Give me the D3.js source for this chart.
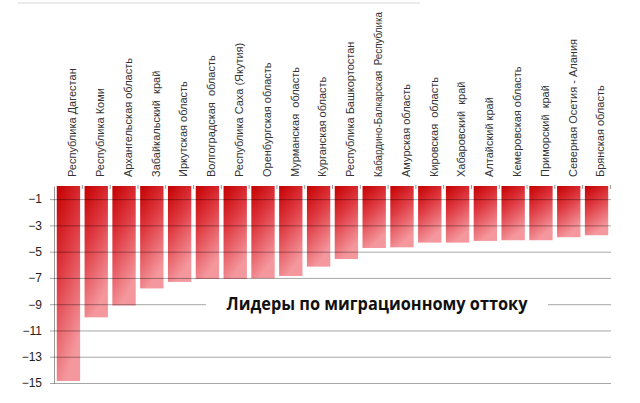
<!DOCTYPE html>
<html>
<head>
<meta charset="utf-8">
<script src="https://cdn.jsdelivr.net/npm/d3@7"></script>
<style>
  body { margin: 0; background: #fff; }
  svg { display: block; }
</style>
</head>
<body>
<svg id="chart" width="640" height="403"></svg>
<script>
// regions (categories) and their migration balance
const regions = [
  "Республика Дагестан", "Республика Коми", "Архангельская область", "Забайкальский  край",
  "Иркутская область", "Волгоградская  область", "Республика Саха (Якутия)", "Оренбургская область",
  "Мурманская  область", "Курганская область", "Республика Башкортостан", "Кабардино-Балкарская  Республика",
  "Амурская область", "Кировская  область", "Хабаровский  край", "Алтайский край",
  "Кемеровская область", "Приморский  край", "Северная Осетия - Алания", "Брянская область"
];
const outflow = [
  -14.85, -10.0, -9.1, -7.8,
  -7.3, -7.08, -7.08, -7.03,
  -6.85, -6.14, -5.56, -4.72,
  -4.67, -4.31, -4.31, -4.18,
  -4.13, -4.13, -3.9, -3.75
];
const yTicks = [-1, -3, -5, -7, -9, -11, -13, -15];
const title = "Лидеры по миграционному оттоку";

const svg = d3.select("#chart");
const plotLeft = 54, plotRight = 611, plotTop = 186, plotBottom = 383;

let x = d3.scaleBand().domain(regions).range([plotLeft, plotRight]).paddingInner(0.16).paddingOuter(0.1);
let y = d3.scaleLinear().domain([0, -15]).range([plotTop, plotBottom]);

// gradient for the bars: dark red top-left, pink bottom-right
let defs = svg.append("defs");
let grad = defs.append("linearGradient")
    .attr("id", "barfill")
    .attr("x1", 0).attr("y1", 0).attr("x2", 0.35).attr("y2", 1);
grad.append("stop").attr("offset", "0%").attr("stop-color", "#c40000");
grad.append("stop").attr("offset", "45%").attr("stop-color", "#df3a42");
grad.append("stop").attr("offset", "100%").attr("stop-color", "#f4989e");

// faint line at the very top of the picture
svg.append("line")
    .attr("x1", 18).attr("x2", 420).attr("y1", 3).attr("y2", 3)
    .attr("stroke", "#d8d8d8");

// bars
svg.append("g")
    .selectAll("rect")
    .data(outflow)
    .enter().append("rect")
    .attr("x", (d, i) => x(regions[i]))
    .attr("y", y(0))
    .attr("width", x.bandwidth())
    .attr("height", d => y(d) - y(0))
    .attr("fill", "url(#barfill)");

// y axis with gridlines drawn over bars
let yAxis = d3.axisLeft(y)
    .tickValues(yTicks)
    .tickSize(-(plotRight - plotLeft))
    .tickSizeOuter(0)
    .tickPadding(12);

let gy = svg.append("g")
    .attr("transform", "translate(" + plotLeft + ",0)")
    .call(yAxis);
gy.select(".domain").attr("stroke", "#999");
gy.selectAll(".tick line")
    .attr("x1", -4)
    .attr("stroke", "#000")
    .attr("stroke-opacity", 0.35);
gy.selectAll(".tick text")
    .attr("fill", "#222")
    .style("font-family", "'Liberation Sans', Arial, sans-serif")
    .style("font-size", "12px");

// category ticks along the zero line
svg.append("g")
    .selectAll("line")
    .data(regions)
    .enter().append("line")
    .attr("x1", d => x(d) + x.step() * (1 - x.paddingInner() / 2))
    .attr("x2", d => x(d) + x.step() * (1 - x.paddingInner() / 2))
    .attr("y1", plotTop - 1).attr("y2", plotTop + 3)
    .attr("stroke", "#999");

// rotated category labels
let labelBase = plotTop - 9;
let maxLen = labelBase - 12;
let labels = svg.append("g")
    .selectAll("text")
    .data(regions)
    .enter().append("text")
    .attr("transform", d => "translate(" + (x(d) + x.bandwidth() / 2 + 4) + "," + labelBase + ") rotate(-90)")
    .attr("dy", "0.35em")
    .attr("text-anchor", "start")
    .attr("fill", "#333")
    .style("font-family", "'Liberation Sans', Arial, sans-serif")
    .style("font-size", "11px")
    .style("white-space", "pre")
    .text(d => d);

// squeeze any label that would run past the top edge
labels.each(function() {
    if (this.getComputedTextLength() > maxLen) {
        d3.select(this)
            .style("font-size", "10px")
            .attr("textLength", maxLen)
            .attr("lengthAdjust", "spacingAndGlyphs");
    }
});

// title sitting on the -9 gridline
svg.append("rect")
    .attr("x", 206).attr("y", 293)
    .attr("width", 342).attr("height", 22)
    .attr("fill", "#fff");
svg.append("text")
    .attr("x", 377)
    .attr("y", y(-9) + 6)
    .attr("text-anchor", "middle")
    .attr("textLength", 301)
    .attr("lengthAdjust", "spacingAndGlyphs")
    .attr("fill", "#111")
    .style("font-family", "'Open Sans', sans-serif")
    .style("font-weight", "bold")
    .style("font-size", "18px")
    .text(title);
</script>
</body>
</html>
